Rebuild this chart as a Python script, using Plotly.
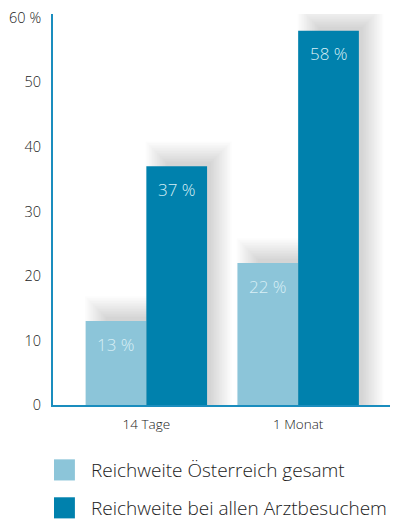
import plotly.graph_objects as go

categories = ["14 Tage", "1 Monat"]
series_names = ["Reichweite Österreich gesamt", "Reichweite bei allen Arztbesuchem"]
values_austria = [13, 22]
values_doctors = [37, 58]
tick_vals = [0, 10, 20, 30, 40, 50, 60]
tick_text = ["0", "10", "20", "30", "40", "50", "60 %"]

colors = ["#8CC5D9", "#0081AD"]
series = [values_austria, values_doctors]
offsets = [-0.4, 0.0]
bar_w = 0.4
font_fam = "Open Sans"
px_x = 1 / 152.0          # category units per pixel
px_y = 60.6 / 391.0       # value units per pixel

fig = go.Figure()

# soft drop shadows (layered translucent bars)
n_layers = 14
for vals, off in zip(series, offsets):
    for j in range(n_layers):
        grow = 1.6 * j
        fig.add_trace(go.Bar(
            x=categories,
            y=[v + (4 + grow) * px_y for v in vals],
            width=bar_w - 16 * px_x + 2 * grow * px_x,
            offset=off + (20 - grow) * px_x,
            marker=dict(color="rgba(0,0,0,0.013)", line=dict(width=0)),
            hoverinfo="skip",
            showlegend=False,
        ))

for name, vals, off, col in zip(series_names, series, offsets, colors):
    fig.add_trace(go.Bar(
        x=categories,
        y=vals,
        name=name,
        width=bar_w,
        offset=off,
        marker=dict(color=col, line=dict(width=0)),
        hoverinfo="x+y",
        showlegend=False,
    ))
    for c, v in zip(categories, vals):
        fig.add_annotation(
            x=c, y=v, xref="x", yref="y",
            text=f"{v} %", showarrow=False,
            xshift=(off + bar_w / 2) * 152, yshift=-23,
            xanchor="center", yanchor="middle",
            font=dict(family=font_fam, size=17, color="#D8EFF6", weight=300),
        )

fig.update_layout(
    barmode="overlay",
    width=405,
    height=520,
    margin=dict(l=45, r=23, t=6, b=123),
    paper_bgcolor="white",
    plot_bgcolor="white",
    font=dict(family=font_fam, color="#333333"),
    xaxis=dict(
        range=[-0.615, 1.605],
        showgrid=False,
        zeroline=False,
        showline=True,
        linecolor="#1A8DBE",
        linewidth=2,
        ticks="",
        automargin=False,
        ticklabelstandoff=6,
        tickfont=dict(size=13.5, color="#222222", weight=300),
        fixedrange=True,
    ),
    yaxis=dict(
        range=[0, 60.6],
        tickvals=tick_vals,
        ticktext=tick_text,
        showgrid=False,
        zeroline=False,
        showline=True,
        linecolor="#1A8DBE",
        linewidth=2,
        ticks="",
        automargin=False,
        ticklabeloverflow="allow",
        ticklabelstandoff=7,
        tickfont=dict(size=14.5, color="#222222", weight=300),
        fixedrange=True,
    ),
)

# custom legend with large square swatches (paper coords relative to plot area)
legend_y = [-0.166, -0.263]
for name, col, ly in zip(series_names, colors, legend_y):
    fig.add_shape(type="rect", xref="paper", yref="paper",
                  x0=0.003, x1=0.065, y0=ly - 0.027, y1=ly + 0.027,
                  fillcolor=col, line=dict(width=0))
    fig.add_annotation(xref="paper", yref="paper", x=0.107, y=ly,
                       text=name, showarrow=False, xanchor="left", yanchor="middle",
                       font=dict(family=font_fam, size=19, color="#222222", weight=300))

fig.write_html("out.html")
